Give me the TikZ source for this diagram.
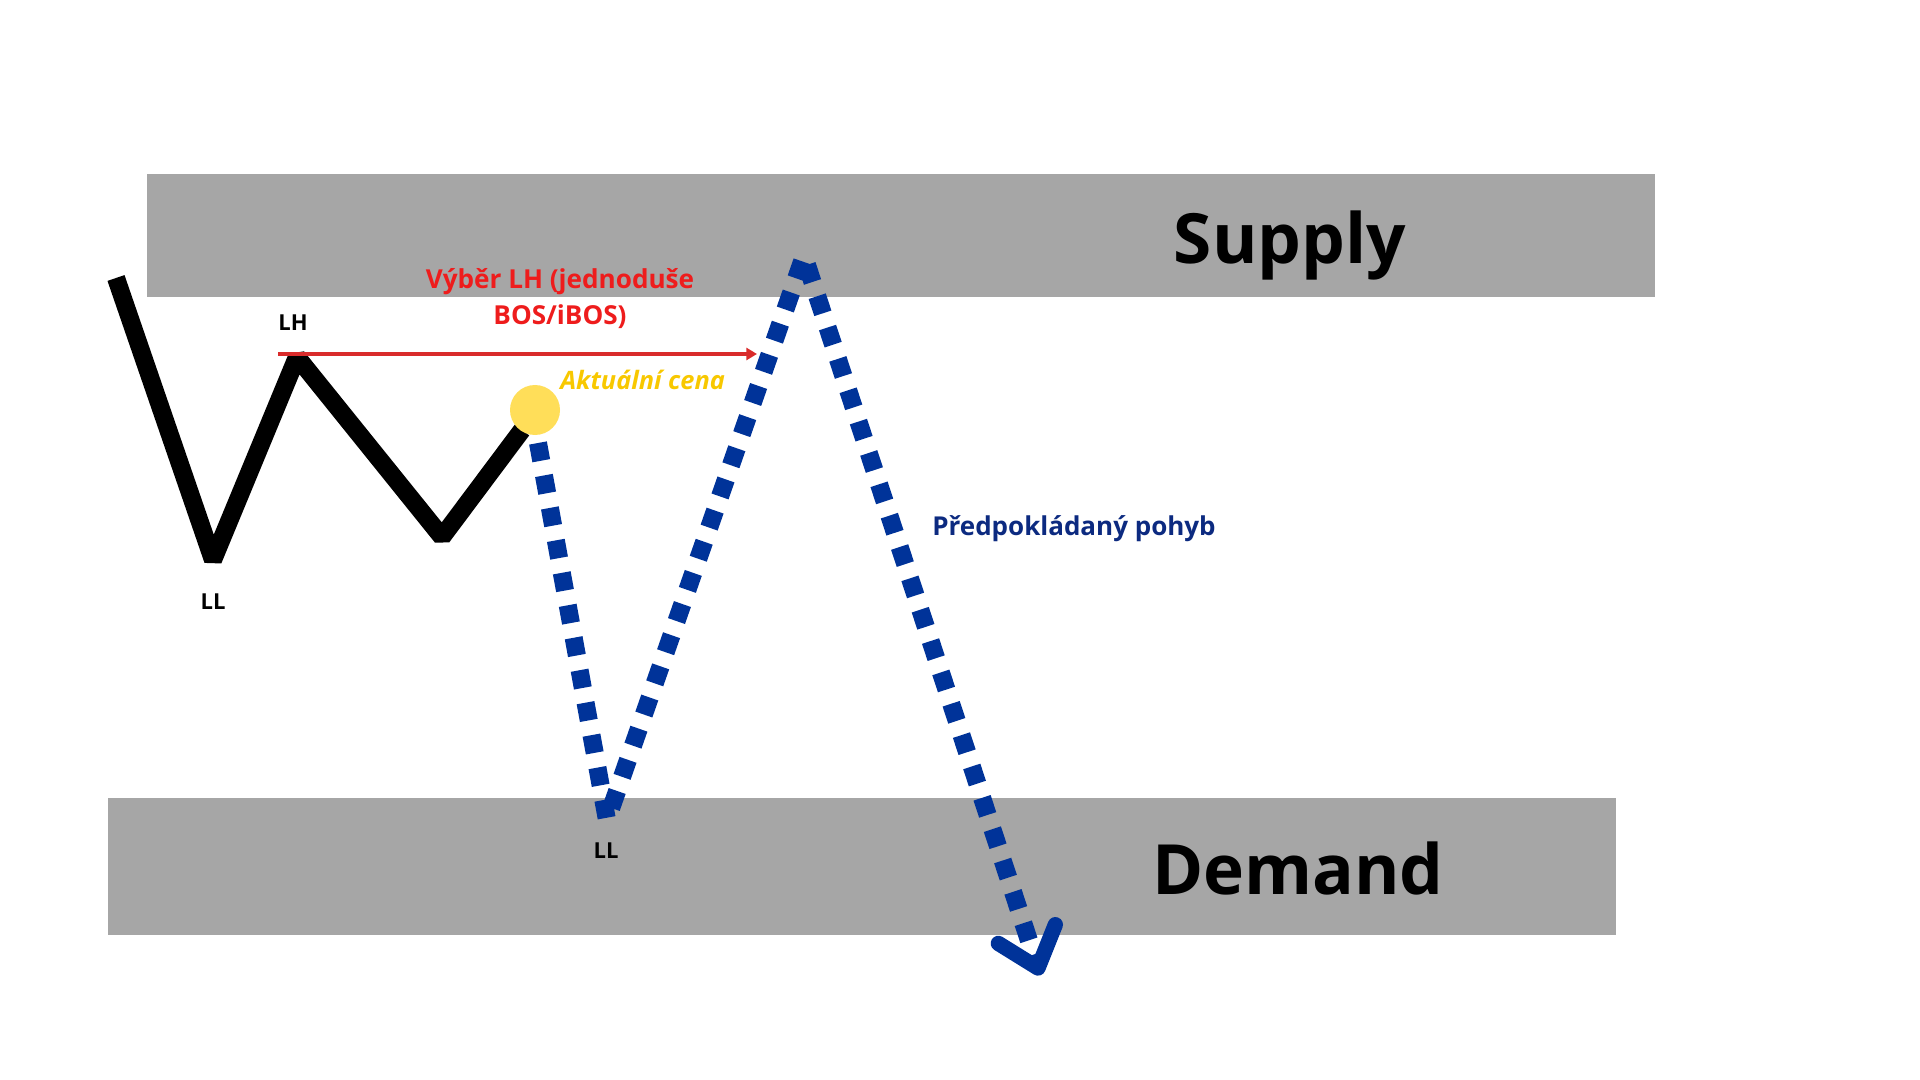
\documentclass[tikz,border=0pt]{standalone}
\usepackage{fontspec}
\setmainfont{Open Sans}
\usetikzlibrary{arrows.meta,calc}
\definecolor{zonegray}{HTML}{A6A6A6}
\definecolor{bosred}{HTML}{D92B2B}
\definecolor{textred}{HTML}{EE1C1C}
\definecolor{ballyellow}{HTML}{FFDE59}
\definecolor{priceyellow}{HTML}{F8C800}
\definecolor{moveblue}{HTML}{003399}
\definecolor{movenavy}{HTML}{0C2A80}

\begin{document}
\begin{tikzpicture}[x=0.75pt,y=0.75pt,yscale=-1,xscale=1,
  zone/.style={fill=zonegray,draw=none},
  zonetext/.style={font=\bfseries\fontsize{52}{60}\selectfont,inner sep=0pt,anchor=base},
  swing/.style={line width=13.5pt,line join=bevel},
  move/.style={color=moveblue,line width=13.5pt,dash pattern={on 13.5pt off 11.25pt}},
  barb/.style={color=moveblue,line width=11.5pt,line cap=round,line join=round},
  pointlbl/.style={font=\bfseries\fontsize{16.5}{20}\selectfont,inner sep=0pt,anchor=base}]
\useasboundingbox (0,0) rectangle (1920,1080);

% zones
\fill[zone] (147,174) rectangle (1655,297);
\fill[zone] (108,798) rectangle (1616,935);
\node[zonetext] (supply) at (1290,264) {Supply};
\node[zonetext] (demand) at (1298,894) {Demand};

% price swings
\coordinate (start) at (116,278);
\coordinate (ll1) at (213,560);
\coordinate (lh) at (297,357);
\coordinate (low) at (442,537);
\coordinate (last) at (522,430);
\draw[swing] (start) -- (ll1) -- (lh) -- (low) -- (last);

% BOS line
\coordinate (bosL) at (278,354);
\coordinate (bosR) at (757,354);
\draw[bosred,line width=2.6pt,-{Triangle[length=8pt,width=9pt]}] (bosL) -- (bosR);

\node[circle,fill=ballyellow,minimum size=37.5pt,inner sep=0pt] (now) at (535,410) {};

% expected move
\coordinate (go) at (538,443);
\coordinate (ll2) at (607,820);
\coordinate (top) at (804,256);
\coordinate (tip) at (1038,968);
\draw[move] (go) -- (ll2) -- (top) -- (tip);
\draw[barb] ($(tip)!35pt!40:(top)$) -- (tip) -- ($(tip)!35pt!-40:(top)$);

% labels
\node[pointlbl] (lhlbl) at (293,331) {LH};
\node[pointlbl] (ll1lbl) at (213,609) {LL};
\node[pointlbl] (ll2lbl) at (606,858) {LL};
\node[textred,font=\bfseries\fontsize{19.6}{27.5}\selectfont,align=center,inner sep=0pt,anchor=base] (bostext) at (560,325) {Výběr LH (jednoduše\\BOS/iBOS)};
\node[priceyellow,font=\bfseries\itshape\fontsize{19}{24}\selectfont,inner sep=0pt,anchor=base west] (pricetext) at (560,390) {Aktuální cena};
\node[movenavy,font=\bfseries\fontsize{19.5}{24}\selectfont,inner sep=0pt,anchor=base west] (movetext) at (932,535) {Předpokládaný pohyb};
\end{tikzpicture}
\end{document}
